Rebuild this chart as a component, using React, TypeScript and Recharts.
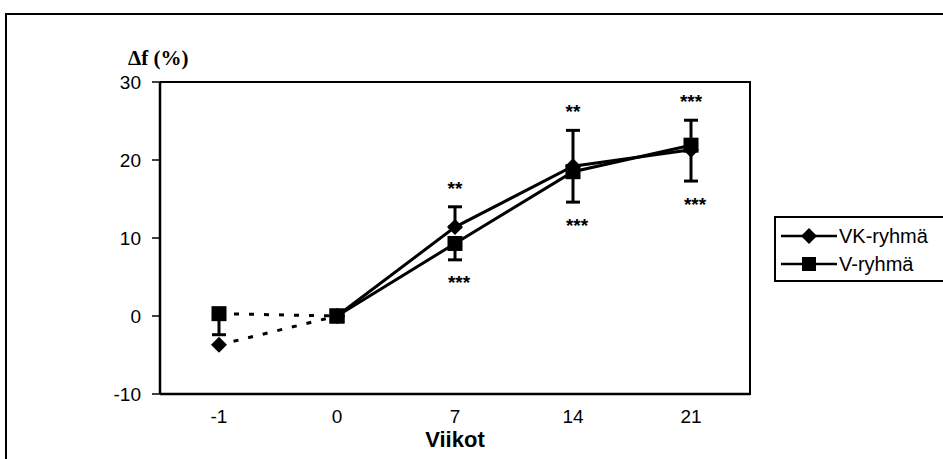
import { LineChart, Line, XAxis, YAxis, ErrorBar, ReferenceDot } from 'recharts';

// weeks on the x axis
const weeks = ['-1', '0', '7', '14', '21'];

// group means (Δf %)
const vkValues = [-3.7, 0, 11.4, 19.2, 21.3];
const vValues = [0.3, 0, 9.3, 18.5, 21.9];

// one-sided error bars: VK upwards, V downwards
const vkErrUp = [0, 0, 2.6, 4.6, 3.8];
const vErrDown = [2.7, 0, 2.1, 3.9, 4.6];

// significance marks
const vkStars = ['', '', '**', '**', '***'];
const vStars = ['', '', '***', '***', '***'];

const yTicks = [-10, 0, 10, 20, 30];
const seriesNames = ['VK-ryhmä', 'V-ryhmä'];

const data = weeks.map((week, i) => ({
  week,
  vkDash: i <= 1 ? vkValues[i] : null,
  vkSolid: i >= 1 ? vkValues[i] : null,
  vDash: i <= 1 ? vValues[i] : null,
  vSolid: i >= 1 ? vValues[i] : null,
  vkErr: vkErrUp[i],
  vErr: vErrDown[i],
}));

const font = 'Arial, "Liberation Sans", sans-serif';
const tickStyle = { fill: '#000', fontSize: 19, fontFamily: font };
const starStyle = { fill: '#000', fontSize: 19, fontWeight: 'bold', fontFamily: font };

const Diamond = (props: any) => {
  const { cx, cy, value } = props;
  if (value == null || cx == null || cy == null) return null;
  const r = 8;
  return <path d={`M${cx},${cy - r}L${cx + r},${cy}L${cx},${cy + r}L${cx - r},${cy}Z`} fill="#000" />;
};

const Square = (props: any) => {
  const { cx, cy, value } = props;
  if (value == null || cx == null || cy == null) return null;
  const s = 7.5;
  return <rect x={cx - s} y={cy - s} width={s * 2} height={s * 2} fill="#000" />;
};

function LegendBox() {
  return (
    <div
      style={{
        position: 'absolute',
        left: 774,
        top: 216,
        width: 180,
        height: 62,
        border: '2px solid #000',
        fontFamily: font,
        fontSize: 20,
        color: '#000',
      }}
    >
      {seriesNames.map((name, i) => (
        <div key={name} style={{ display: 'flex', alignItems: 'center', height: 28, marginTop: i === 0 ? 4 : 0 }}>
          <svg width={60} height={20} style={{ marginLeft: 3 }}>
            <line x1={2} y1={10} x2={58} y2={10} stroke="#000" strokeWidth={2.5} />
            {i === 0 ? (
              <path d="M30,2L38,10L30,18L22,10Z" fill="#000" />
            ) : (
              <rect x={23} y={3} width={14} height={14} fill="#000" />
            )}
          </svg>
          <span style={{ marginLeft: 0 }}>{name}</span>
        </div>
      ))}
    </div>
  );
}

export default function App() {
  return (
    <div style={{ position: 'absolute', left: 0, top: 0, width: 943, height: 459, background: '#fff', overflow: 'hidden' }}>
      <div
        style={{
          position: 'absolute',
          left: 5,
          top: 13,
          right: 0,
          bottom: 0,
          borderTop: '2px solid #000',
          borderLeft: '2px solid #000',
        }}
      />
      {/* top and right edges of the plot frame */}
      <div
        style={{
          position: 'absolute',
          left: 160,
          top: 81,
          width: 589,
          height: 312,
          borderTop: '2.5px solid #000',
          borderRight: '2.5px solid #000',
        }}
      />
      <div
        style={{
          position: 'absolute',
          left: 128,
          top: 46,
          fontFamily: '"Liberation Serif", "Times New Roman", serif',
          fontWeight: 'bold',
          fontSize: 21,
          color: '#000',
        }}
      >
        Δf (%)
      </div>
      <LineChart
        width={943}
        height={459}
        data={data}
        margin={{ top: 82, right: 193, bottom: 0, left: 0 }}
        style={{ position: 'absolute', left: 0, top: 0 }}
      >
        <XAxis
          dataKey="week"
          height={65}
          padding={{ left: 59, right: 59 }}
          axisLine={{ stroke: '#000', strokeWidth: 2.5 }}
          tickLine={false}
          tickSize={0}
          tickMargin={16}
          fontSize={19}
          fontFamily={font}
          tick={tickStyle}
          label={{
            value: 'Viikot',
            position: 'insideBottom',
            offset: 12,
            style: { fill: '#000', fontSize: 22, fontWeight: 'bold', fontFamily: font },
          }}
        />
        <YAxis
          width={160}
          type="number"
          domain={[-10, 30]}
          ticks={yTicks}
          interval={0}
          axisLine={{ stroke: '#000', strokeWidth: 2.5 }}
          tickLine={{ stroke: '#000', strokeWidth: 1.5 }}
          tickSize={8}
          tickMargin={11}
          fontSize={19}
          fontFamily={font}
          tick={tickStyle}
        />

        <Line
          dataKey="vkDash"
          stroke="#000"
          strokeWidth={3}
          strokeDasharray="5 10"
          dot={<Diamond />}
          activeDot={false}
          isAnimationActive={false}
        />
        <Line
          dataKey="vDash"
          stroke="#000"
          strokeWidth={3}
          strokeDasharray="5 10"
          dot={<Square />}
          activeDot={false}
          isAnimationActive={false}
        >
          <ErrorBar dataKey={(d: any) => (d.vDash == null ? null : [d.vErr, 0])} width={7} strokeWidth={3} stroke="#000" direction="y" />
        </Line>
        <Line
          dataKey="vkSolid"
          stroke="#000"
          strokeWidth={3}
          dot={<Diamond />}
          activeDot={false}
          isAnimationActive={false}
        >
          <ErrorBar dataKey={(d: any) => (d.vkSolid == null ? null : [0, d.vkErr])} width={7} strokeWidth={3} stroke="#000" direction="y" />
        </Line>
        <Line
          dataKey="vSolid"
          stroke="#000"
          strokeWidth={3}
          dot={<Square />}
          activeDot={false}
          isAnimationActive={false}
        >
          <ErrorBar dataKey={(d: any) => (d.vSolid == null ? null : [d.vErr, 0])} width={7} strokeWidth={3} stroke="#000" direction="y" />
        </Line>

        {weeks.map((w, i) =>
          vkStars[i] ? (
            <ReferenceDot
              key={'a' + w}
              x={w}
              y={vkValues[i] + vkErrUp[i]}
              r={0}
              fill="none"
              stroke="none"
              ifOverflow="visible"
              label={{ value: vkStars[i], position: 'top', offset: 12, style: starStyle }}
            />
          ) : null
        )}
        {weeks.map((w, i) =>
          vStars[i] ? (
            <ReferenceDot
              key={'b' + w}
              x={w}
              y={vValues[i] - vErrDown[i]}
              r={0}
              fill="none"
              stroke="none"
              ifOverflow="visible"
              label={{ value: vStars[i], position: 'bottom', offset: 16, dx: 4, style: starStyle }}
            />
          ) : null
        )}
      </LineChart>
      <LegendBox />
    </div>
  );
}
